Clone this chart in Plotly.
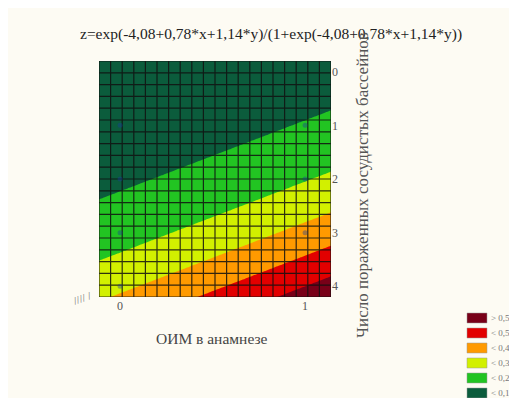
import numpy as np
import plotly.graph_objects as go

# ---- data ----
title_text = "z=exp(-4,08+0,78*x+1,14*y)/(1+exp(-4,08+0,78*x+1,14*y))"
x_title = "ОИМ в анамнезе"
y_title = "Число пораженных сосудистых бассейнов"
x_ticks = [0, 1]
y_ticks = [0, 1, 2, 3, 4]
x_range = [-0.114, 1.14]
y_range = [-0.2, 4.2]
# logistic surface as it appears in the picture (intercept, x-coef, y-coef)
surface_coef = [-3.78, 0.94, 0.71]
levels = [0.1, 0.2, 0.3, 0.4, 0.5]
band_colors = ["#0b5c3c", "#22c422", "#d2f000", "#ff9a00", "#e20000", "#780018"]
legend_labels = ["> 0,5", "< 0,5", "< 0,4", "< 0,3", "< 0,2", "< 0,1"]
obs_x = [0, 1, 0, 1, 0, 1, 0]
obs_y = [1, 1, 2, 2, 3, 3, 4]
n_cells = 20

# ---- surface ----
xs = np.linspace(x_range[0], x_range[1], 101)
ys = np.linspace(y_range[0], y_range[1], 101)
X, Y = np.meshgrid(xs, ys)
L = surface_coef[0] + surface_coef[1] * X + surface_coef[2] * Y
Z = np.exp(L) / (1 + np.exp(L))

zmin, zmax = 0.0, 0.6
cs = []
nb = len(band_colors)
for i, c in enumerate(band_colors):
    cs.append([i / nb, c])
    cs.append([(i + 1) / nb, c])

fig = go.Figure()
fig.add_trace(go.Contour(
    x=xs, y=ys, z=Z, zmin=zmin, zmax=zmax, zauto=False,
    autocontour=False,
    contours=dict(start=levels[0], end=levels[-1], size=0.1, coloring="fill", showlines=False),
    colorscale=cs, showscale=False, line=dict(width=0), hoverinfo="skip"))

# grid lines of the surface mesh
xe = np.linspace(x_range[0], x_range[1], n_cells + 1)
ye = np.linspace(y_range[0], y_range[1], n_cells + 1)
gx, gy = [], []
for v in xe:
    gx += [v, v, None]
    gy += [y_range[0], y_range[1], None]
for v in ye:
    gx += [x_range[0], x_range[1], None]
    gy += [v, v, None]
fig.add_trace(go.Scatter(x=gx, y=gy, mode="lines", line=dict(color="#111111", width=1.2),
                         opacity=0.85, hoverinfo="skip", showlegend=False))

fig.add_trace(go.Scatter(x=obs_x, y=obs_y, mode="markers",
                         marker=dict(color="#1a3c9a", size=5, opacity=0.4),
                         hoverinfo="skip", showlegend=False))

serif = "Liberation Serif, Times New Roman, serif"
OFF = 8  # page body margin
W, H = 517 - OFF, 398 - OFF
# target plot box in window pixels
box_l, box_r, box_t, box_b = 99, 331, 61, 297
ml, mt = box_l - OFF, box_t - OFF
mr = W - (box_r - OFF)
mb = H - (box_b - OFF)
pw, ph = box_r - box_l, box_b - box_t

def px(xp):
    return (xp - box_l) / pw

def py(yp):
    return (box_b - yp) / ph

fig.update_layout(
    width=W, height=H, autosize=False,
    margin=dict(l=ml, r=mr, t=mt, b=mb, pad=0),
    paper_bgcolor="#fdfbf3", plot_bgcolor="#fdfbf3",
    showlegend=False,
    font=dict(family=serif, color="#444444", size=12),
    xaxis=dict(range=x_range, tickvals=x_ticks, ticktext=[str(t) for t in x_ticks],
               showgrid=False, zeroline=False, showline=False, ticks="",
               ticklen=0, tickfont=dict(size=12, color="#555555")),
    yaxis=dict(range=y_range[::-1], tickvals=y_ticks, side="right",
               showgrid=False, zeroline=False, showline=False, ticks="",
               tickfont=dict(size=12, color="#555555")),
)

ann = [
    dict(text=title_text, x=px(271), y=py(34), xref="paper", yref="paper",
         xanchor="center", yanchor="middle",
         showarrow=False, font=dict(size=15.5, color="#222222", family=serif)),
    dict(text=x_title, x=px(212), y=py(338), xref="paper", yref="paper",
         xanchor="center", yanchor="middle",
         showarrow=False, font=dict(size=15.5, color="#444444", family=serif)),
    dict(text=y_title, x=px(362), y=py(185), xref="paper", yref="paper",
         xanchor="center", yanchor="middle",
         showarrow=False, textangle=-90, font=dict(size=17, color="#555555", family=serif)),
    dict(text="//// /", x=px(82), y=py(298), xref="paper", yref="paper",
         xanchor="center", yanchor="middle",
         showarrow=False, textangle=-20, font=dict(size=11, color="#666666", family=serif)),
]

shapes = []
for k, (lab, col) in enumerate(zip(legend_labels, band_colors[::-1])):
    top = 313 + 15 * k
    shapes.append(dict(type="rect", xref="paper", yref="paper",
                       x0=px(467), x1=px(487), y0=py(top + 10), y1=py(top),
                       fillcolor=col, line=dict(color="#999999", width=0.5)))
    ann.append(dict(text=lab, x=px(489), y=py(top + 5), xref="paper", yref="paper",
                    xanchor="left", yanchor="middle", showarrow=False,
                    font=dict(size=9, color="#777777", family=serif)))

fig.update_layout(annotations=ann, shapes=shapes)
fig.write_html("out.html")
